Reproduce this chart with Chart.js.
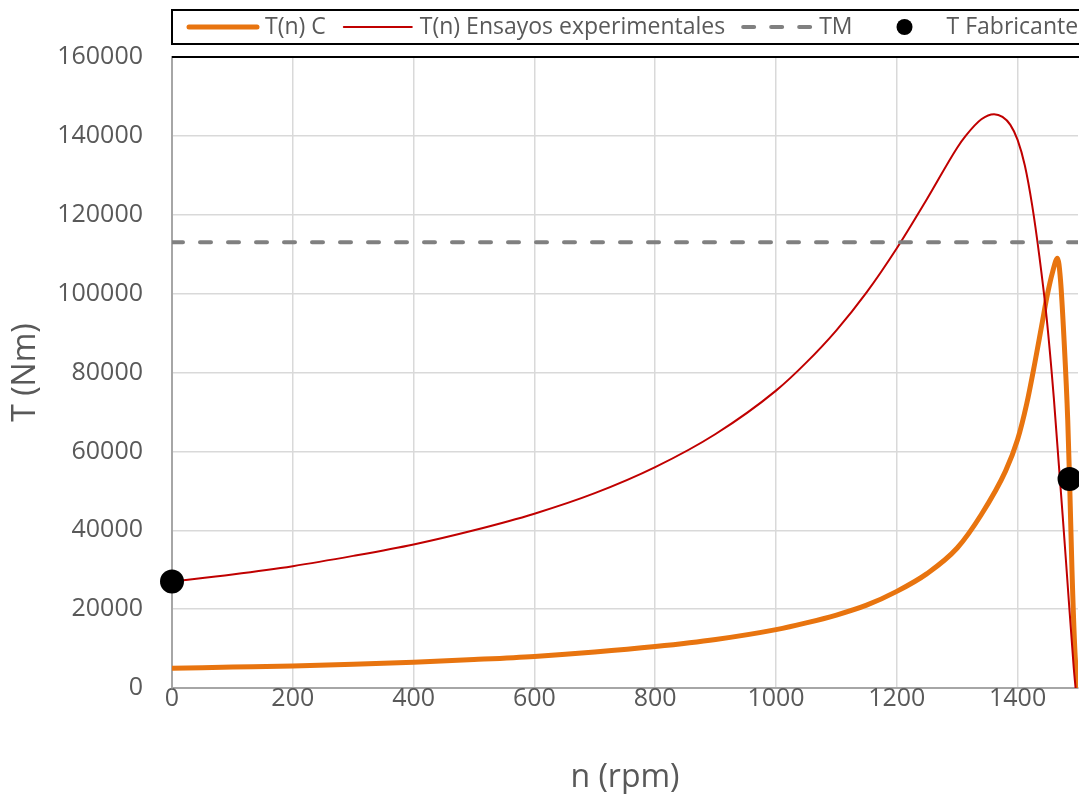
<!DOCTYPE html>
<html>
<head>
<meta charset="utf-8">
<title>Curva par-velocidad</title>
<script src="https://cdn.jsdelivr.net/npm/chart.js@4.4.0/dist/chart.umd.min.js"></script>
<style>
  html, body { margin: 0; padding: 0; background: #fff; overflow: hidden; }
  #wrap { position: relative; width: 1090px; height: 794px; }
  #torque-chart { display: block; }
</style>
</head>
<body>
<div id="wrap"><canvas id="torque-chart" width="1090" height="794"></canvas></div>
<script>
// T(n) C
const speedC = [0, 100, 200, 300, 400, 500, 600, 700, 800, 900, 1000, 1050, 1100, 1150, 1200, 1250, 1300, 1340, 1380, 1400, 1415, 1428, 1440, 1449, 1458, 1466, 1471, 1477, 1483, 1486, 1490, 1495, 1500];
const torqueC = [5000, 5300, 5600, 6000, 6500, 7200, 8000, 9100, 10500, 12300, 14800, 16500, 18500, 21000, 24500, 29000, 35500, 44000, 55000, 63000, 72000, 82000, 92000, 99500, 105500, 109000, 103500, 88000, 68000, 53000, 30000, 9000, 0];

// T(n) Ensayos experimentales
const speedExp = [0, 100, 200, 300, 400, 500, 600, 700, 800, 900, 1000, 1050, 1100, 1150, 1200, 1250, 1300, 1314, 1340, 1361, 1375, 1388, 1400, 1412, 1424, 1436, 1448, 1460, 1480, 1493, 1496];
const torqueExp = [27000, 28800, 30900, 33500, 36400, 40000, 44200, 49400, 56000, 64400, 75400, 82500, 90700, 100300, 111500, 124000, 137000, 140000, 144200, 145500, 144800, 142800, 139000, 132500, 122500, 109500, 94000, 73500, 32400, 5000, 0];

// TM
const speedTM = [0, 1500];
const torqueTM = [113000, 113000];

// T Fabricante
const speedFab = [0, 1486];
const torqueFab = [27000, 53000];

const xTicksMax = 1500;
const yTicksMax = 160000;

const textGray = '#595959';
const ctx = document.getElementById('torque-chart').getContext('2d');

const toPoints = (xs, ys) => xs.map((x, i) => ({ x: x, y: ys[i] }));

// framed legend strip above the plot, plus the dark top edge of the plot
const boxLegend = {
  id: 'boxLegend',
  afterDraw(chart) {
    const c = chart.ctx;
    const area = chart.chartArea;
    const top = 10, bottom = 44, mid = 27;
    c.save();
    c.lineWidth = 2;
    c.strokeStyle = '#000';
    c.strokeRect(area.left, top, chart.width - area.left + 10, bottom - top);
    c.beginPath();
    c.moveTo(area.left, area.top);
    c.lineTo(chart.width, area.top);
    c.stroke();

    c.font = '23px "Open Sans"';
    c.textBaseline = 'middle';
    let x = area.left + 15;
    chart.data.datasets.forEach(ds => {
      const w = 72;
      if (ds.showLine === false) {
        c.fillStyle = ds.backgroundColor;
        c.beginPath();
        c.arc(x + w / 2, mid, 8, 0, Math.PI * 2);
        c.fill();
      } else {
        c.setLineDash(ds.borderDash || []);
        c.strokeStyle = ds.borderColor;
        c.lineWidth = ds.borderWidth;
        c.lineCap = 'round';
        c.beginPath();
        c.moveTo(x + 2, mid);
        c.lineTo(x + w - 2, mid);
        c.stroke();
        c.setLineDash([]);
      }
      x += w + 6;
      c.fillStyle = textGray;
      c.fillText(ds.label, x, mid);
      x += c.measureText(ds.label).width + 16;
    });
    c.restore();
  }
};

new Chart(ctx, {
  type: 'line',
  data: {
    datasets: [
      {
        label: 'T(n) C',
        data: toPoints(speedC, torqueC),
        borderColor: '#E8740F',
        backgroundColor: '#E8740F',
        borderWidth: 5,
        pointRadius: 0,
        cubicInterpolationMode: 'monotone',
        order: 4
      },
      {
        label: 'T(n) Ensayos experimentales',
        data: toPoints(speedExp, torqueExp),
        borderColor: '#C00000',
        backgroundColor: '#C00000',
        borderWidth: 2,
        pointRadius: 0,
        cubicInterpolationMode: 'monotone',
        order: 3
      },
      {
        label: 'TM',
        data: toPoints(speedTM, torqueTM),
        borderColor: '#808080',
        backgroundColor: '#808080',
        borderWidth: 4,
        borderDash: [11, 17],
        borderCapStyle: 'round',
        pointRadius: 0,
        order: 2
      },
      {
        label: 'T Fabricante',
        data: toPoints(speedFab, torqueFab),
        showLine: false,
        backgroundColor: '#000',
        pointBackgroundColor: '#000',
        pointBorderWidth: 0,
        pointRadius: 12,
        clip: false,
        order: 1
      }
    ]
  },
  options: {
    responsive: false,
    animation: false,
    layout: { padding: { top: 57, right: 8, left: 0, bottom: 0 } },
    plugins: {
      legend: { display: false },
      tooltip: { enabled: false }
    },
    scales: {
      x: {
        type: 'linear',
        min: 0,
        max: xTicksMax,
        afterFit: scale => {
          scale.height = 106;
          scale.paddingLeft = 0;
          scale.paddingRight = 0;
        },
        grid: { color: '#d9d9d9', lineWidth: 1.5, drawTicks: false },
        border: { color: '#a6a6a6', width: 2 },
        ticks: {
          stepSize: 200,
          includeBounds: false,
          padding: -4,
          color: textGray,
          font: { family: 'Open Sans', size: 25 },
          callback: v => String(v)
        },
        title: {
          display: true,
          text: 'n (rpm)',
          color: textGray,
          font: { family: 'Open Sans', size: 32, lineHeight: 1.0 },
          padding: 0
        }
      },
      y: {
        min: 0,
        max: yTicksMax,
        afterFit: scale => { scale.width = 172; },
        grid: { color: '#d9d9d9', lineWidth: 1.5, drawTicks: false },
        border: { color: '#a6a6a6', width: 2 },
        ticks: {
          stepSize: 20000,
          padding: 29,
          color: textGray,
          font: { family: 'Open Sans', size: 25 },
          callback: v => String(v)
        },
        title: {
          display: true,
          text: 'T (Nm)',
          color: textGray,
          font: { family: 'Open Sans', size: 32 },
          padding: { top: 7, bottom: 0 }
        }
      }
    }
  },
  plugins: [boxLegend]
});
</script>
</body>
</html>
